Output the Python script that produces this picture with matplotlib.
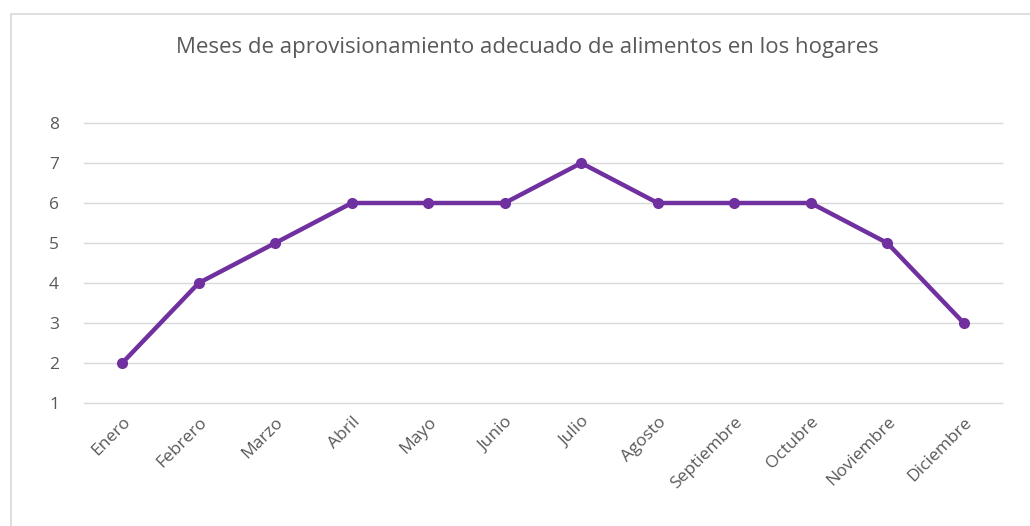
import matplotlib.pyplot as plt
from matplotlib.patches import Rectangle

# Months and the number of households reporting adequate supply
meses = ["Enero", "Febrero", "Marzo", "Abril", "Mayo", "Junio", "Julio",
         "Agosto", "Septiembre", "Octubre", "Noviembre", "Diciembre"]
valores = [2, 4, 5, 6, 6, 6, 7, 6, 6, 6, 5, 3]
y_ticks = [1, 2, 3, 4, 5, 6, 7, 8]

plt.rcParams['font.family'] = ['Open Sans', 'DejaVu Sans']
texto = "#595959"

fig = plt.figure(figsize=(10.3, 5.26), dpi=100)

# light chart border (left and top only are visible in the crop)
fig.patches.append(Rectangle((11 / 1030, -0.1), 1.2, 1 - 14 / 526 + 0.1,
                             transform=fig.transFigure, fill=False,
                             edgecolor="#d9d9d9", linewidth=1.2))

ax = fig.add_axes([84 / 1030, 1 - 403 / 526, 918 / 1030, 280 / 526])

x = list(range(len(meses)))
ax.plot(x, valores, color="#7030a0", linewidth=3.2, marker="o",
        markersize=7, solid_capstyle="round", zorder=3)

ax.set_xlim(-0.5, len(meses) - 0.5)
ax.set_ylim(min(y_ticks), max(y_ticks))
ax.set_yticks(y_ticks)
ax.set_xticks(x)
ax.set_xticklabels(meses, rotation=45, ha="right", rotation_mode="anchor")
ax.tick_params(axis="both", length=0, colors=texto, labelsize=12.5)
ax.tick_params(axis="y", pad=18)
ax.tick_params(axis="x", pad=8)

ax.grid(axis="y", color="#d9d9d9", linewidth=1)
for g in ax.get_ygridlines():
    g.set_clip_on(False)
ax.set_axisbelow(True)
for s in ax.spines.values():
    s.set_visible(False)

fig.text(527 / 1030, 1 - 47 / 526,
         "Meses de aprovisionamiento adecuado de alimentos en los hogares",
         ha="center", va="center", fontsize=16, color=texto)

plt.savefig("out.png", dpi=100)
